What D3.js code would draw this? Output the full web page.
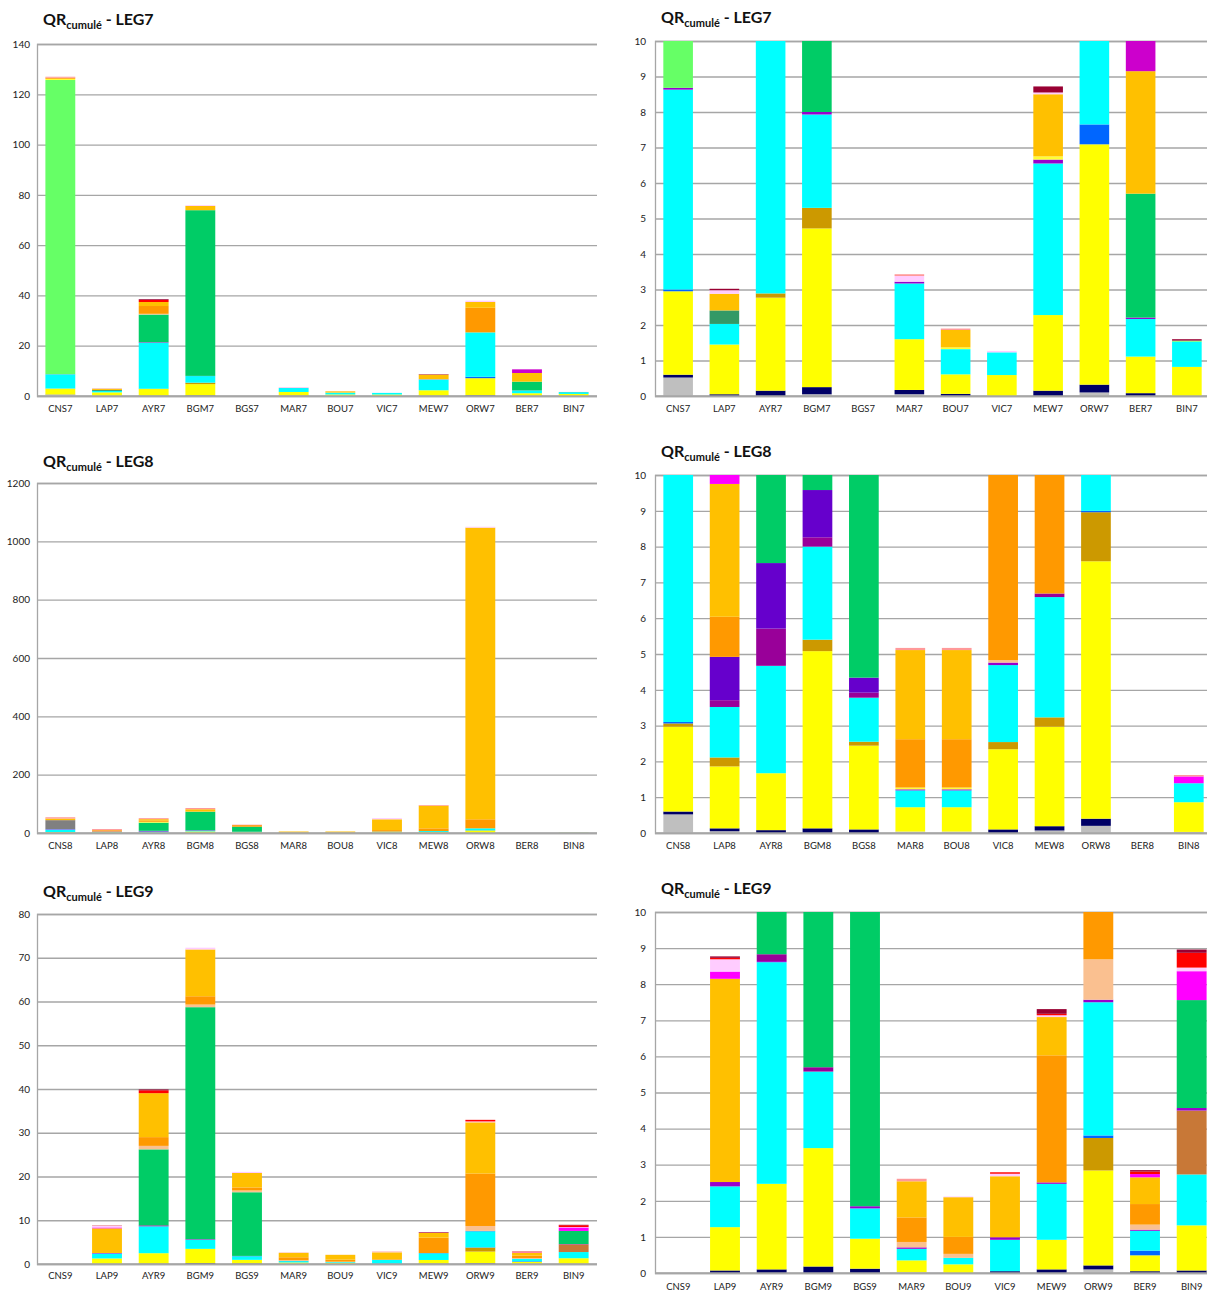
<!DOCTYPE html>
<html><head><meta charset="utf-8">
<script src="https://cdn.jsdelivr.net/npm/d3@7"></script>
<style>
html,body{margin:0;padding:0;background:#fff;}
svg{display:block;font-family:Lato,"Open Sans",sans-serif;}
</style></head>
<body>
<svg id="chart" width="1207" height="1293"></svg>
<script>
// ---------- categories ----------
const cats7 = ["CNS7","LAP7","AYR7","BGM7","BGS7","MAR7","BOU7","VIC7","MEW7","ORW7","BER7","BIN7"];
const cats8 = ["CNS8","LAP8","AYR8","BGM8","BGS8","MAR8","BOU8","VIC8","MEW8","ORW8","BER8","BIN8"];
const cats9 = ["CNS9","LAP9","AYR9","BGM9","BGS9","MAR9","BOU9","VIC9","MEW9","ORW9","BER9","BIN9"];

// ---------- series (stack order bottom -> top) ----------
const seriesKeys = ["grey","navy","yellow","darkgold","blue","cyan","brown","purple","violet","indigo","green","lightgreen","seagreen","darkgrey","lightyellow","peach","orange","gold","magenta","orchid","lightpink","salmon","red","darkred"];
const seriesColors = ["#BFBFBF","#000066","#FFFF00","#CC9900","#0066FF","#00FFFF","#C87837","#9900CC","#990099","#6600CC","#00CC66","#66FF66","#339966","#808080","#FFFF33","#FAC090","#FF9900","#FFC000","#FF00FF","#CC00CC","#FFCCFF","#FF9999","#FF0000","#990033"];

// ---------- LEG7 values (segment heights) ----------
const leg7_grey       = [0.52,0,0,0.05,0,0.05,0,0,0,0.1,0,0];
const leg7_navy       = [0.08,0.05,0.15,0.2,0,0.12,0.06,0,0.15,0.22,0.08,0];
const leg7_yellow     = [2.35,1.4,2.62,4.47,0,1.43,0.55,0.59,2.13,6.77,1.03,0.82];
const leg7_darkgold   = [0,0,0.12,0.58,0,0,0,0,0,0,0,0];
const leg7_blue       = [0.05,0,0,0,0,0,0,0,0,0.56,0,0];
const leg7_cyan       = [5.63,0.58,18.3,2.63,0,1.57,0.71,0.64,4.27,17.65,1.06,0.71];
const leg7_purple     = [0.05,0,0.2,0.07,0,0.05,0,0,0.11,0,0.04,0];
const leg7_green      = [0,0,11.0,65.9,0,0,0,0,0,0,3.49,0];
const leg7_lightgreen = [117.0,0,0,0,0,0,0,0,0,0,0,0.03];
const leg7_seagreen   = [0,0.38,0,0,0,0,0,0,0,0,0,0];
const leg7_lightyellow= [0.5,0,0,0,0,0,0.05,0,0.09,0,0,0];
const leg7_peach      = [0,0,0.3,0,0,0,0,0,0,0,0,0];
const leg7_orange     = [0.4,0,3.1,0,0,0,0,0,0,9.8,0,0];
const leg7_gold       = [0,0.47,1.6,1.7,0,0,0.49,0,1.75,2.3,3.45,0];
const leg7_orchid     = [0,0,0,0,0,0,0,0,0,0,1.45,0];
const leg7_lightpink  = [0,0.1,0,0.3,0,0.16,0,0.04,0.05,0.5,0,0];
const leg7_salmon     = [0.4,0,0,0,0,0.05,0.04,0,0,0,0,0];
const leg7_red        = [0,0,0.8,0,0,0,0,0,0,0,0,0];
const leg7_darkred    = [0,0.04,0.3,0,0,0,0,0,0.17,0,0,0.04];

// ---------- LEG8 values ----------
const leg8_grey       = [0.52,0.05,0,0,0,0.04,0.04,0,0.07,0.2,0,0.03];
const leg8_navy       = [0.08,0.08,0.08,0.13,0.1,0,0,0.1,0.12,0.2,0,0];
const leg8_yellow     = [2.37,1.73,1.59,4.95,2.34,0.68,0.68,2.24,2.78,7.19,0,0.83];
const leg8_darkgold   = [0.09,0.25,0,0.32,0.11,0,0,0.2,0.26,1.37,0,0];
const leg8_blue       = [0.04,0,0,0,0,0,0,0,0,0.04,0,0];
const leg8_cyan       = [9.0,1.41,3.0,2.6,1.23,0.47,0.47,2.15,3.36,7.0,0,0.53];
const leg8_purple     = [1.5,0,0,0,0,0.03,0.03,0.07,0,0,0,0];
const leg8_violet     = [0,0.19,1.04,0.26,0.14,0,0,0,0.1,0,0,0];
const leg8_indigo     = [0,1.21,1.83,1.32,0.42,0,0,0,0,0,0,0];
const leg8_green      = [0,0,27.9,63.4,17.2,0,0,0,0,0,0,0];
const leg8_darkgrey   = [30.4,0,0,0,0,0,0,0,0,0,0,0];
const leg8_lightyellow= [0,0,3.0,0,0,0.05,0.05,0,0,0,0,0];
const leg8_peach      = [0,0,0,0,0,0,0,0.07,0,0,0,0];
const leg8_orange     = [0.5,1.12,4.0,0.5,5.5,1.35,1.35,5.2,9.3,31,0,0];
const leg8_gold       = [5.0,3.71,5.0,8.0,0,2.49,2.49,37,77.6,1000,0,0];
const leg8_magenta    = [0,0.5,0,0,0,0,0,0,0,0,0,0.19];
const leg8_lightpink  = [0,0,0,0,0,0,0,4,0,3,0,0];
const leg8_salmon     = [4.5,3.25,3.5,4.2,1.5,0.06,0.06,0,2.4,0,0,0.04];

// ---------- LEG9 values ----------
const leg9_grey       = [0,0,0,0,0,0.02,0,0,0,0.1,0,0];
const leg9_navy       = [0,0.07,0.1,0.18,0.12,0,0,0.05,0.1,0.11,0.05,0.07];
const leg9_yellow     = [0,1.2,2.37,3.28,0.83,0.33,0.24,0,0.82,2.63,0.44,1.25];
const leg9_darkgold   = [0,0,0,0,0,0,0,0,0,0.9,0,0];
const leg9_blue       = [0,0,0,0,0,0,0,0,0,0.07,0.13,0];
const leg9_cyan       = [0,1.13,6.14,2.12,0.84,0.32,0.18,0.87,1.55,3.69,0.55,1.41];
const leg9_brown      = [0,0,0,0,0,0,0,0,0,0,0,1.77];
const leg9_purple     = [0,0.12,0.03,0,0.06,0.04,0,0.07,0.04,0.07,0.03,0.07];
const leg9_violet     = [0,0,0.19,0.12,0,0,0,0,0,0,0,0];
const leg9_green      = [0,0,17.37,53.0,14.55,0,0,0,0,0,0,2.99];
const leg9_peach      = [0,0,0.8,0.6,0.4,0.15,0.11,0,0,1.12,0.14,0];
const leg9_orange     = [0,0,2.0,1.9,0.7,0.68,0.47,0,3.52,12.0,0.57,0];
const leg9_gold       = [0,5.63,10.05,10.7,3.3,1.0,1.1,1.69,1.06,11.7,0.74,0];
const leg9_magenta    = [0,0.2,0,0,0,0,0,0,0,0,0.09,0.8];
const leg9_lightpink  = [0,0.34,0,0.4,0.25,0,0.02,0.07,0.05,0.2,0,0.1];
const leg9_salmon     = [0,0,0,0,0,0.07,0,0,0,0,0,0];
const leg9_red        = [0,0.04,0.65,0,0,0,0,0.04,0.04,0.36,0.07,0.41];
const leg9_darkred    = [0,0.04,0.2,0,0,0,0,0,0.13,0,0.04,0.09];

// ---------- axis tick labels ----------
const ticks7 = [0,20,40,60,80,100,120,140];
const ticks8 = [0,200,400,600,800,1000,1200];
const ticks9 = [0,10,20,30,40,50,60,70,80];
const ticksZoom = [0,1,2,3,4,5,6,7,8,9,10];

// ---------- build tables ----------
const legSeries = {
  7: {grey:leg7_grey,navy:leg7_navy,yellow:leg7_yellow,darkgold:leg7_darkgold,blue:leg7_blue,cyan:leg7_cyan,purple:leg7_purple,green:leg7_green,lightgreen:leg7_lightgreen,seagreen:leg7_seagreen,lightyellow:leg7_lightyellow,peach:leg7_peach,orange:leg7_orange,gold:leg7_gold,orchid:leg7_orchid,lightpink:leg7_lightpink,salmon:leg7_salmon,red:leg7_red,darkred:leg7_darkred},
  8: {grey:leg8_grey,navy:leg8_navy,yellow:leg8_yellow,darkgold:leg8_darkgold,blue:leg8_blue,cyan:leg8_cyan,purple:leg8_purple,violet:leg8_violet,indigo:leg8_indigo,green:leg8_green,darkgrey:leg8_darkgrey,lightyellow:leg8_lightyellow,peach:leg8_peach,orange:leg8_orange,gold:leg8_gold,magenta:leg8_magenta,lightpink:leg8_lightpink,salmon:leg8_salmon},
  9: {grey:leg9_grey,navy:leg9_navy,yellow:leg9_yellow,darkgold:leg9_darkgold,blue:leg9_blue,cyan:leg9_cyan,brown:leg9_brown,purple:leg9_purple,violet:leg9_violet,green:leg9_green,peach:leg9_peach,orange:leg9_orange,gold:leg9_gold,magenta:leg9_magenta,lightpink:leg9_lightpink,salmon:leg9_salmon,red:leg9_red,darkred:leg9_darkred}
};
const legCats = {7:cats7, 8:cats8, 9:cats9};
const legTicks = {7:ticks7, 8:ticks8, 9:ticks9};

function buildRows(leg){
  const cats = legCats[leg], s = legSeries[leg];
  return cats.map((c,i)=>{
    const row = {cat:c};
    seriesKeys.forEach(k=>{ row[k] = s[k] ? s[k][i] : 0; });
    return row;
  });
}

const color = d3.scaleOrdinal().domain(seriesKeys).range(seriesColors);
const stack = d3.stack().keys(seriesKeys);

const panels = [
  {leg:7, zoom:false, x0:37,  x1:597,  yTop:44,  yBot:396,  lblY:409,  tx:43,  ty:25},
  {leg:7, zoom:true,  x0:655, x1:1210, yTop:41,  yBot:396,  lblY:409,  tx:661, ty:23},
  {leg:8, zoom:false, x0:37,  x1:597,  yTop:483, yBot:833,  lblY:846,  tx:43,  ty:467},
  {leg:8, zoom:true,  x0:655, x1:1212, yTop:475, yBot:833,  lblY:846,  tx:661, ty:457},
  {leg:9, zoom:false, x0:37,  x1:597,  yTop:914, yBot:1264, lblY:1276, tx:43,  ty:897},
  {leg:9, zoom:true,  x0:655, x1:1215, yTop:912, yBot:1273, lblY:1287, tx:661, ty:894}
];

const svg = d3.select("#chart");
svg.append("rect").attr("width",1207).attr("height",1293).attr("fill","#fff");

panels.forEach((p,pi)=>{
  const rows = buildRows(p.leg);
  const stacked = stack(rows);
  const ticks = p.zoom ? ticksZoom : legTicks[p.leg];
  const yMax = ticks[ticks.length-1];
  const x = d3.scaleBand().domain(legCats[p.leg]).range([p.x0,p.x1]).paddingInner(0.36).paddingOuter(0.18);
  const y = d3.scaleLinear().domain([0,yMax]).range([p.yBot,p.yTop]);
  const g = svg.append("g");

  // gridlines
  const yAxis = d3.axisLeft(y).tickValues(ticks).tickSize(-(p.x1-p.x0)).tickPadding(p.zoom?9:7).tickFormat(d3.format("d"));
  const ga = g.append("g").attr("transform",`translate(${p.x0},0)`).call(yAxis);
  ga.select(".domain").attr("stroke","#a6a6a6").attr("stroke-width",1.3);
  ga.selectAll(".tick line").attr("stroke","#a6a6a6").attr("stroke-width",1.3);
  ga.selectAll(".tick text").attr("font-size",10).attr("fill","#222").attr("font-family","Lato, 'Open Sans', sans-serif");

  // clip
  const cid = "clip"+pi;
  svg.append("clipPath").attr("id",cid).append("rect")
    .attr("x",p.x0).attr("y",p.yTop).attr("width",p.x1-p.x0).attr("height",p.yBot-p.yTop);

  const bars = g.append("g").attr("clip-path",`url(#${cid})`);
  bars.selectAll("g.series").data(stacked).join("g").attr("class","series")
    .attr("fill",d=>color(d.key))
    .selectAll("rect").data(d=>d.filter(v=>v[1]-v[0]>0)).join("rect")
      .attr("x",d=>x(d.data.cat))
      .attr("width",x.bandwidth())
      .attr("y",d=>y(d[1]))
      .attr("height",d=>Math.max(0,y(d[0])-y(d[1])));

  // baseline
  g.append("line").attr("x1",p.x0).attr("x2",p.x1).attr("y1",p.yBot).attr("y2",p.yBot)
    .attr("stroke","#a6a6a6").attr("stroke-width",1.3);

  // x labels
  g.selectAll("text.xl").data(legCats[p.leg]).join("text").attr("class","xl")
    .attr("x",d=>x(d)+x.bandwidth()/2).attr("y",p.lblY).attr("dy","0.35em")
    .attr("text-anchor","middle").attr("font-size",9.5).attr("fill","#222").text(d=>d);

  // title
  const t = g.append("text").attr("x",p.tx).attr("y",p.ty).attr("font-weight","bold").attr("fill","#111");
  t.append("tspan").attr("font-size",16).text("QR");
  t.append("tspan").attr("font-size",11).attr("dy",4).text("cumulé");
  t.append("tspan").attr("font-size",16).attr("dy",-4).text(" - LEG" + p.leg);
});
</script>
</body></html>
